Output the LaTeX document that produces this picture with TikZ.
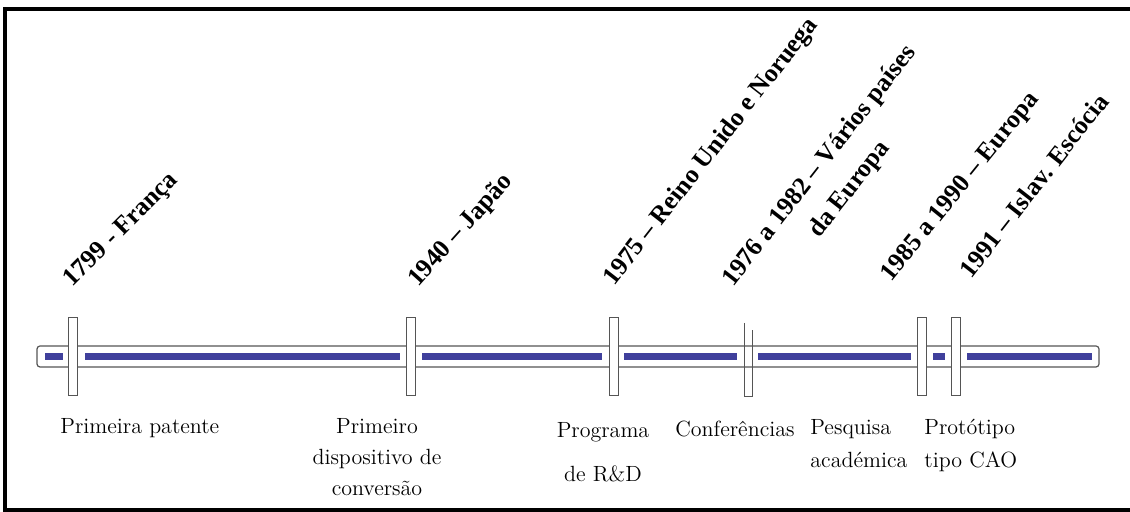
\documentclass[tikz,border=0pt]{standalone}
\usepackage{fontspec}
\usepackage{tikz}
\newfontfamily\datefont{Liberation Serif}
\definecolor{barblue}{HTML}{40409C}
\definecolor{bargray}{HTML}{555555}

\tikzset{
  tick/.style={rectangle,draw=bargray,fill=white,line width=0.5pt,
    minimum width=4.5pt,minimum height=39pt,inner sep=0pt},
  date/.style={font=\datefont\bfseries\fontsize{12.8}{15}\selectfont,
    inner sep=0pt,anchor=base west},
  event/.style={font=\fontsize{11}{15.5}\selectfont,inner sep=0pt}
}

\begin{document}
\begin{tikzpicture}[x=0.5pt,y=-0.5pt]
\useasboundingbox (0,0) rectangle (1130,512);
\draw[line width=2pt] (1130,9) -- (5,9) -- (5,510) -- (1130,510);
% time bar
\draw[bargray,line width=0.6pt,rounded corners=1.5pt] (37,346) rectangle (1099,367);
\foreach \a/\b in {45/63,85/400,422/602,624/737,758/911,933/945,967/1092}{
  \draw[barblue,line width=3.5pt] (\a,356.5) -- (\b,356.5);
}
% markers
\node[tick] (t1) at (73,357) {};
\node[tick] (t2) at (411,357) {};
\node[tick] (t3) at (613.5,357) {};
\node[tick,draw=none,fill=none] (t4) at (748,360) {};
\draw[bargray,line width=0.5pt] (744,323) -- (744,397) -- (752,397) -- (752,330);
\node[tick] (t5) at (921.5,357) {};
\node[tick] (t6) at (956,357) {};
% dates
\node[date,rotate=45] (d1) at (72,288) {1799 - França};
\node[date,rotate=48] (d2) at (418,288) {1940 – Japão};
\node[date,rotate=52] (d3) at (614,287) {1975 – Reino Unido e Noruega};
\node[date,rotate=52,anchor=center,align=center,
  font=\datefont\bfseries\fontsize{12.8}{19}\selectfont] (d4) at (835,178)
  {1976 a 1982 – Vários países\\da Europa};
\node[date,rotate=51] (d5) at (891,283) {1985 a 1990 – Europa};
\node[date,rotate=52] (d6) at (971,280) {1991 – Islav. Escócia};
% events
\node[event,anchor=north west] (e1) at (60,418) {Primeira patente};
\node[event,anchor=north,align=center] (e2) at (377,418) {Primeiro\\dispositivo de\\conversão};
\node[event,anchor=north,align=center,font=\fontsize{11}{22}\selectfont] (e3) at (603,422) {Programa\\de R\&D};
\node[event,anchor=north west] (e4) at (675,421) {Conferências};
\node[event,anchor=north west,align=left,font=\fontsize{11}{16.5}\selectfont] (e5) at (810,419) {Pesquisa\\académica};
\node[event,anchor=north west,align=left,font=\fontsize{11}{16.5}\selectfont] (e6) at (924,419) {Protótipo\\tipo CAO};
\end{tikzpicture}
\end{document}
